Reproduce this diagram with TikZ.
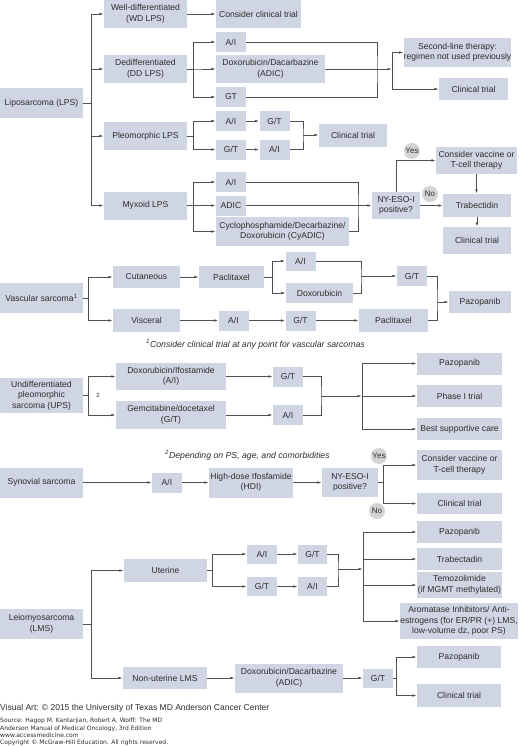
\documentclass[tikz,border=0pt]{standalone}
\usepackage{fontspec}
\setmainfont{Liberation Sans}
\newfontfamily\srcfont{DejaVu Sans}
\usetikzlibrary{arrows.meta}
\definecolor{boxc}{RGB}{207,213,226}
\definecolor{linec}{RGB}{80,80,80}
\definecolor{txtc}{RGB}{45,45,45}
\definecolor{circc}{RGB}{212,212,212}
\newcommand\bxn[6]{\node[bx, minimum width=#4pt, minimum height=#5pt] (#1) at (#2,#3) {#6};}
\begin{document}
\begin{tikzpicture}[x=1pt,y=-1pt,
  bx/.style={rectangle, fill=boxc, inner sep=0pt, align=center, text=txtc, font=\fontsize{8.6}{10.5}\selectfont},
  ln/.style={draw=linec, line width=0.75pt},
  arr/.style={ln, -{Latex[length=4.5pt,width=2.6pt]}},
  yn/.style={circle, fill=circc, inner sep=0pt, minimum size=16pt, text=txtc, font=\fontsize{8}{9}\selectfont},
  note/.style={inner sep=0pt, text=txtc, anchor=west},
]
\useasboundingbox (0,0) rectangle (520,747);
\fill[white] (0,0) rectangle (520,747);
% ---------- Liposarcoma
\bxn{lps}{41.5}{103}{83}{30}{Liposarcoma (LPS)}
\bxn{wd}{145.5}{14}{83}{28}{Well-differentiated\\(WD LPS)}
\bxn{wdct}{258.5}{14}{85}{28}{Consider clinical trial}
\bxn{dd}{145.5}{69}{83}{28}{Dedifferentiated\\(DD LPS)}
\bxn{ddai}{231}{42}{30}{20}{A/I}
\bxn{ddadic}{270.5}{69}{109}{28}{Doxorubicin/Dacarbazine\\(ADIC)}
\bxn{ddgt}{231}{97}{30}{20}{GT}
\bxn{second}{457.5}{52.5}{103}{29}{Second-line therapy:\\regimen not used previously}
\bxn{ddct}{473.5}{89}{69}{22}{Clinical trial}
\bxn{pleo}{145.5}{136}{83}{28}{Pleomorphic LPS}
\bxn{pai1}{231}{121}{30}{20}{A/I}
\bxn{pgt1}{231}{149.5}{30}{20}{G/T}
\bxn{pgt2}{274.5}{121}{30}{20}{G/T}
\bxn{pai2}{274.5}{149.5}{30}{20}{A/I}
\bxn{pct}{353}{135}{68}{23}{Clinical trial}
\bxn{myx}{145.5}{205.5}{83}{28}{Myxoid LPS}
\bxn{mai}{231}{182}{30}{20}{A/I}
\bxn{madic}{231}{205.5}{30}{20}{ADIC}
\bxn{mcy}{282.5}{231.5}{133}{29}{Cyclophosphamide/Decarbazine/\\Doxorubicin (CyADIC)}
\bxn{nye}{396}{205.5}{48}{27}{NY-ESO-I\\positive?}
\bxn{cvac1}{476.5}{160.5}{81}{27}{Consider vaccine or\\T-cell therapy}
\bxn{trab1}{477}{205.5}{68}{23}{Trabectidin}
\bxn{mct}{477}{240.5}{68}{27}{Clinical trial}
% ---------- Vascular
\bxn{vasc}{41.5}{298}{83}{30}{Vascular sarcoma\textsuperscript{1}}
\bxn{cut}{146.5}{277}{67}{22}{Cutaneous}
\bxn{vpac1}{231.5}{277}{65}{22}{Paclitaxel}
\bxn{visc}{146.5}{320.5}{67}{23}{Visceral}
\bxn{vai1}{233.5}{320.5}{30}{20}{A/I}
\bxn{vai2}{300.5}{261}{30}{19}{A/I}
\bxn{vdox}{319.5}{293}{67}{20}{Doxorubicin}
\bxn{vgt1}{412}{276}{30}{20}{G/T}
\bxn{vgt2}{300.5}{320.5}{30}{20}{G/T}
\bxn{vpac2}{393.5}{320.5}{69}{23}{Paclitaxel}
\bxn{vpaz}{480}{302}{62}{22}{Pazopanib}
\node[note, font=\itshape\fontsize{8.7}{10}\selectfont] (fn1) at (146,344) {\textsuperscript{1}Consider clinical trial at any point for vascular sarcomas};
% ---------- UPS
\bxn{ups}{41.5}{395.5}{83}{35}{Undifferentiated\\pleomorphic\\sarcoma (UPS)}
\bxn{uai1}{171}{376.5}{110}{27}{Doxorubicin/Ifostamide\\(A/I)}
\bxn{ugt1}{171}{415}{110}{28}{Gemcitabine/docetaxel\\(G/T)}
\bxn{ugt2}{288}{376.5}{30}{20}{G/T}
\bxn{uai2}{288}{415}{30}{20}{A/I}
\bxn{upaz}{459.5}{363.5}{85}{22}{Pazopanib}
\bxn{uph}{459.5}{396}{85}{22}{Phase I trial}
\bxn{ubsc}{459.5}{429}{85}{22}{Best supportive care}
\node[inner sep=0pt, text=txtc, font=\fontsize{6}{7}\selectfont] (lab2) at (98,395) {2};
\node[note, font=\itshape\fontsize{8.7}{10}\selectfont] (fn2) at (165,455) {\textsuperscript{2}Depending on PS, age, and comorbidities};
% ---------- Synovial
\bxn{syn}{41.5}{482.5}{83}{30}{Synovial sarcoma}
\bxn{sai}{167}{482.5}{30}{20}{A/I}
\bxn{shdi}{251}{482.5}{84}{30}{High-dose Ifosfamide\\(HDI)}
\bxn{snye}{350}{482.5}{56}{29}{NY-ESO-I\\positive?}
\bxn{scvac}{459.5}{465}{85}{30}{Consider vaccine or\\T-cell therapy}
\bxn{sct}{459.5}{503.5}{85}{21}{Clinical trial}
% ---------- LMS
\bxn{lms}{41.5}{624}{83}{30}{Leiomyosarcoma\\(LMS)}
\bxn{ut}{165.5}{570.5}{83}{23}{Uterine}
\bxn{lai1}{262}{554}{30}{19}{A/I}
\bxn{lgt1}{262}{586.5}{30}{19}{G/T}
\bxn{lgt2}{312.5}{554}{29}{19}{G/T}
\bxn{lai2}{312.5}{586.5}{29}{19}{A/I}
\bxn{lpaz}{459.5}{532}{85}{22}{Pazopanib}
\bxn{ltrab}{459.5}{559}{85}{22}{Trabectadin}
\bxn{ltemo}{459.5}{585}{85}{26}{Temozolimide\\(if MGMT methylated)}
\bxn{larom}{459}{621}{118}{36}{Aromatase Inhibitors/ Anti-\\estrogens (for ER/PR (+) LMS,\\low-volume dz, poor PS)}
\bxn{nut}{165}{678}{84}{22}{Non-uterine LMS}
\bxn{ladic}{289}{678}{108}{29}{Doxorubicin/Dacarbazine\\(ADIC)}
\bxn{lgt3}{378}{678}{30}{19}{G/T}
\bxn{lpaz2}{459}{657}{84}{22}{Pazopanib}
\bxn{lct}{459}{695.5}{84}{23}{Clinical trial}
% ---------- footer
\node[note, font=\fontsize{8.5}{10}\selectfont] (va) at (0,708) {Visual Art: © 2015 the University of Texas MD Anderson Cancer Center};
\node[inner sep=0pt, anchor=north west, align=left, text=txtc, font=\srcfont\fontsize{6}{7.4}\selectfont] (src) at (0,718) {Source: Hagop M. Kantarjian, Robert A. Wolff: The MD\\Anderson Manual of Medical Oncology, 3rd Edition\\www.accessmedicine.com\\Copyright © McGraw-Hill Education. All rights reserved.};
% ========== connectors
% LPS
\draw[arr] (lps.east) -- ++(8,0) |- (wd.west);
\draw[arr] (lps.east) -- ++(8,0) |- (dd.west);
\draw[arr] (lps.east) -- ++(8,0) |- (pleo.west);
\draw[arr] (lps.east) -- ++(8,0) |- (myx.west);
\draw[arr] (wd) -- (wdct);
\draw[arr] (dd.east) -- ++(6,0) |- (ddai.west);
\draw[arr] (dd.east) -- ++(6,0) |- (ddadic.west);
\draw[arr] (dd.east) -- ++(6,0) |- (ddgt.west);
\coordinate (ddm) at (377,69);
\draw[ln] (ddai.east) -| (ddm) |- (ddgt.east);
\coordinate (ddj) at (392,69);
\draw[arr] (ddadic.east) -- (ddj);
\draw[arr] (ddj) |- (second.west);
\draw[arr] (ddj) |- (ddct.west);
% Pleo
\draw[arr] (pleo.east) -- ++(6,0) |- (pai1.west);
\draw[arr] (pleo.east) -- ++(6,0) |- (pgt1.west);
\draw[arr] (pai1) -- (pgt2);
\draw[arr] (pgt1) -- (pai2);
\coordinate (pm) at (303,135);
\draw[ln] (pgt2.east) -| (pm) |- (pai2.east);
\draw[arr] (pm) -- (pct.west);
% Myxoid
\draw[arr] (myx.east) -- ++(6,0) |- (mai.west);
\draw[arr] (myx.east) -- ++(6,0) |- (madic.west);
\draw[arr] (myx.east) -- ++(6,0) |- (mcy.west);
\coordinate (mm) at (358,205.5);
\draw[ln] (mai.east) -| (mm) |- (mcy.east);
\draw[arr] (madic.east) -- (nye.west);
\draw[arr] (nye.north) |- (cvac1.west);
\draw[arr] (nye.east) -- (trab1.west);
\draw[arr] (cvac1.south) -- (cvac1.south |- trab1.north);
\draw[arr] (trab1.south) -- (mct.north);
\node[yn] (yes1) at (412,151) {Yes};
\node[yn] (no1) at (430,194) {No};
% Vascular
\draw[arr] (vasc.east) -- ++(5,0) |- (cut.west);
\draw[arr] (vasc.east) -- ++(5,0) |- (visc.west);
\draw[arr] (cut) -- (vpac1);
\draw[arr] (visc) -- (vai1);
\draw[arr] (vpac1.east) -- ++(8,0) |- (vai2.west);
\draw[arr] (vpac1.east) -- ++(8,0) |- (vdox.west);
\coordinate (vm) at (361,276);
\draw[ln] (vai2.east) -| (vm) |- (vdox.east);
\draw[arr] (vm) -- (vgt1.west);
\draw[arr] (vai1) -- (vgt2);
\draw[arr] (vgt2) -- (vpac2);
\coordinate (vm2) at (437,302);
\draw[ln] (vgt1.east) -| (vm2) |- (vpac2.east);
\draw[arr] (vm2) -- (vpaz.west);
% UPS
\draw[arr] (ups.east) -- ++(5,0) |- (uai1.west);
\draw[arr] (ups.east) -- ++(5,0) |- (ugt1.west);
\draw[arr] (uai1) -- (ugt2);
\draw[arr] (ugt1) -- (uai2);
\coordinate (um) at (321,396);
\draw[ln] (ugt2.east) -| (um) |- (uai2.east);
\coordinate (uj) at (362,396);
\draw[arr] (um) -- (uj);
\draw[arr] (uj) |- (upaz.west);
\draw[arr] (uj) -- (uph.west);
\draw[arr] (uj) |- (ubsc.west);
% Synovial
\draw[arr] (syn) -- (sai);
\draw[arr] (sai) -- (shdi);
\draw[arr] (shdi) -- (snye);
\coordinate (sj) at (383,482.5);
\draw[ln] (snye.east) -- (sj);
\draw[arr] (sj) |- (scvac.west);
\draw[arr] (sj) |- (sct.west);
\node[yn] (yes2) at (379,456) {Yes};
\node[yn] (no2) at (377,511) {No};
% LMS
\draw[arr] (lms.east) -- ++(8,0) |- (ut.west);
\draw[arr] (lms.east) -- ++(8,0) |- (nut.west);
\draw[arr] (ut.east) -- ++(5,0) |- (lai1.west);
\draw[arr] (ut.east) -- ++(5,0) |- (lgt1.west);
\draw[arr] (lai1) -- (lgt2);
\draw[arr] (lgt1) -- (lai2);
\coordinate (lm) at (338,569);
\draw[ln] (lgt2.east) -| (lm) |- (lai2.east);
\coordinate (lj) at (363,569);
\draw[arr] (lm) -- (lj);
\draw[arr] (lj) |- (lpaz.west);
\draw[arr] (lj) |- (ltrab.west);
\draw[arr] (lj) |- (ltemo.west);
\draw[arr] (lj) |- (larom.west);
\draw[arr] (nut) -- (ladic);
\draw[arr] (ladic) -- (lgt3);
\draw[arr] (lgt3.east) -- ++(3,0) |- (lpaz2.west);
\draw[arr] (lgt3.east) -- ++(3,0) |- (lct.west);
\end{tikzpicture}
\end{document}
